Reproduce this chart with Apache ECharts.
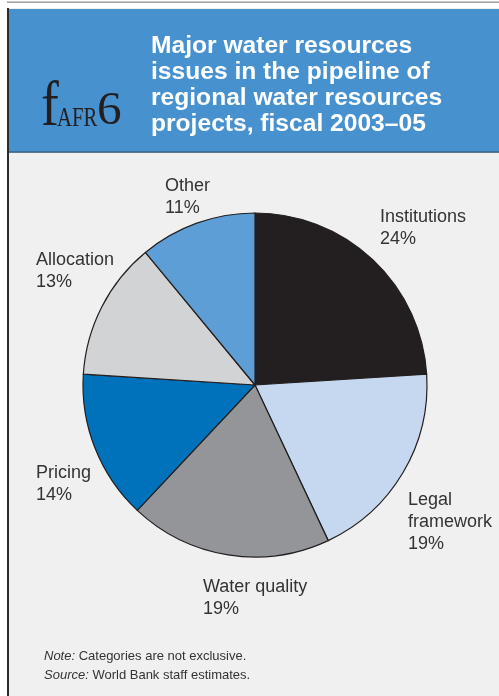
<!DOCTYPE html>
<html>
<head>
<meta charset="utf-8">
<script src="https://cdn.jsdelivr.net/npm/echarts@6/dist/echarts.min.js"></script>
<style>
html,body{margin:0;padding:0;background:#ffffff;}
#chart{width:499px;height:696px;}
</style>
</head>
<body>
<div id="chart"></div>
<script>
// ---- data ----
const categories = ['Institutions', 'Legal\nframework', 'Water quality', 'Pricing', 'Allocation', 'Other'];
const shares = [24, 19, 19, 14, 13, 11];
const titleLines = ['Major water resources', 'issues in the pipeline of', 'regional water resources', 'projects, fiscal 2003\u201305'];
const noteLabel = 'Note:';
const noteText = ' Categories are not exclusive.';
const sourceLabel = 'Source:';
const sourceText = ' World Bank staff estimates.';

// ---- styling ----
const sliceColors = ['#231f20', '#c6d8ef', '#939598', '#0072bc', '#d1d3d4', '#5e9ed6'];
const labelPos = [
  [380, 206], [408, 489], [203, 576], [36, 462], [36, 249], [165, 175]
];

const chart = echarts.init(document.getElementById('chart'), null, {renderer: 'canvas'});

const option = {
  backgroundColor: '#ffffff',
  animation: false,
  graphic: [
    {type: 'rect', shape: {x: 7, y: 1.5, width: 492, height: 1.2}, style: {fill: '#8a8a8a'}, z: 0},
    {type: 'rect', shape: {x: 7, y: 8, width: 492, height: 688}, style: {fill: '#f0f0f0'}, z: 0},
    {type: 'rect', shape: {x: 7, y: 8, width: 2, height: 688}, style: {fill: '#2b2b2b'}, z: 1},
    {type: 'rect', shape: {x: 9, y: 9, width: 490, height: 143}, style: {fill: '#4891cf'}, z: 1},
    {type: 'rect', shape: {x: 9, y: 151.5, width: 490, height: 1.2}, style: {fill: '#2f4f6e'}, z: 1},
    {type: 'text', left: 151, top: 33, z: 2, style: {
      text: titleLines.join('\n'), fill: '#ffffff',
      font: 'bold 24.6px "Liberation Sans", Arial, sans-serif', lineHeight: 26
    }},
    // logo
    {type: 'text', x: 41, y: 140, z: 2, scaleX: 0.85, style: {
      text: 'f', fill: '#231f20', font: '63px "Liberation Serif", serif', verticalAlign: 'bottom'
    }},
    {type: 'text', x: 57, y: 133, z: 2, scaleX: 0.74, style: {
      text: 'AFR', fill: '#231f20', font: '28px "Liberation Serif", serif', verticalAlign: 'bottom'
    }},
    {type: 'text', x: 97, y: 135, z: 2, scaleX: 1.05, style: {
      text: '6', fill: '#231f20', font: '47px "Liberation Serif", serif', verticalAlign: 'bottom'
    }},
    {type: 'text', left: 44, top: 647, z: 2, style: {
      text: '{i|' + noteLabel + '}' + noteText + '\n{i|' + sourceLabel + '}' + sourceText,
      fill: '#333333', font: '13px "Liberation Sans", Arial, sans-serif', lineHeight: 19,
      rich: {i: {fontStyle: 'italic', fontSize: 13, fontFamily: '"Liberation Sans", Arial, sans-serif', fill: '#333333'}}
    }}
  ],
  series: [{
    type: 'pie',
    center: [255, 385],
    radius: 172,
    startAngle: 90,
    clockwise: true,
    avoidLabelOverlap: false,
    itemStyle: {borderColor: '#231f20', borderWidth: 1.2},
    label: {
      show: true,
      position: 'outside',
      formatter: p => p.name + '\n' + p.value + '%',
      color: '#333333',
      fontFamily: '"Liberation Sans", Arial, sans-serif',
      fontSize: 18,
      lineHeight: 22,
      align: 'left'
    },
    labelLine: {show: false},
    labelLayout: function (params) {
      const p = labelPos[params.dataIndex];
      return {x: p[0], y: p[1], align: 'left', verticalAlign: 'top'};
    },
    emphasis: {disabled: true},
    data: categories.map((c, i) => ({name: c, value: shares[i], itemStyle: {color: sliceColors[i]}}))
  }]
};
chart.setOption(option);
</script>
</body>
</html>
